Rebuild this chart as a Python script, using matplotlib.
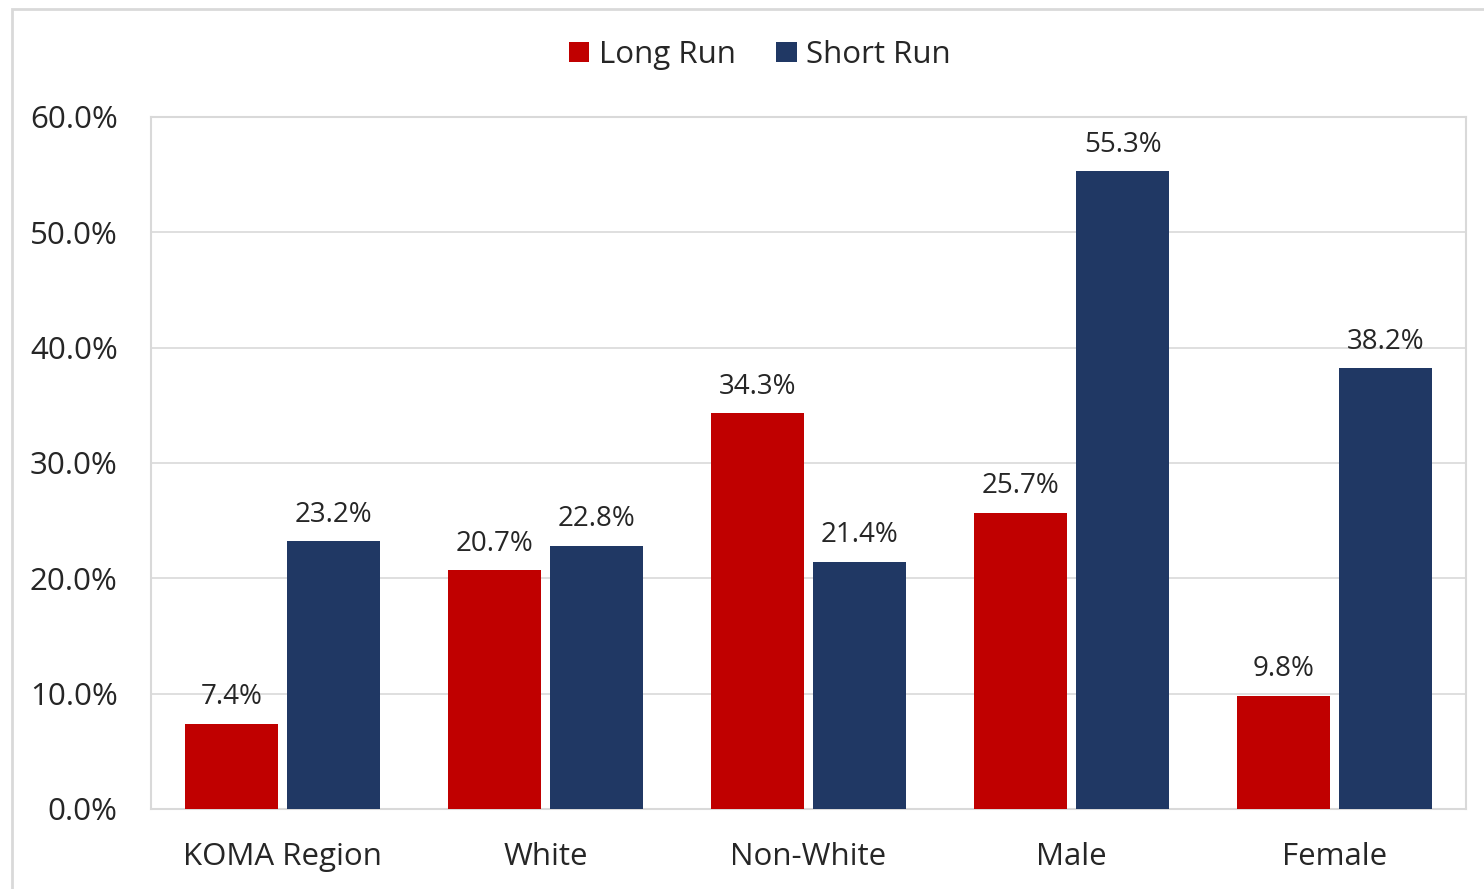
import numpy as np
import matplotlib
matplotlib.use("Agg")
import matplotlib.pyplot as plt
from matplotlib.patches import Rectangle

categories = ["KOMA Region", "White", "Non-White", "Male", "Female"]
long_run = [7.4, 20.7, 34.3, 25.7, 9.8]
short_run = [23.2, 22.8, 21.4, 55.3, 38.2]
series_names = ["Long Run", "Short Run"]
colors = ["#C00000", "#203864"]
yticks = [0, 10, 20, 30, 40, 50, 60]

plt.rcParams['font.family'] = ['Open Sans', 'DejaVu Sans']

fig = plt.figure(figsize=(14.84, 8.89), dpi=100)
# outer chart border (runs off the right and bottom edges)
fig.patches.append(Rectangle((12 / 1484, -0.5), 1.5, 1.5 - 9 / 889, transform=fig.transFigure,
                             fill=False, edgecolor="#D9D9D9", linewidth=2, zorder=0))

ax = fig.add_axes([151 / 1484, 1 - 809 / 889, (1466 - 151) / 1484, (809 - 117) / 889])

x = np.arange(len(categories))
w = 0.35
off = 0.194
b1 = ax.bar(x - off, long_run, w, color=colors[0], label=series_names[0], zorder=3)
b2 = ax.bar(x + off, short_run, w, color=colors[1], label=series_names[1], zorder=3)

for bars, vals in ((b1, long_run), (b2, short_run)):
    for r, v in zip(bars, vals):
        ax.text(r.get_x() + r.get_width() / 2, v + 1.1, f"{v:.1f}%", ha="center", va="bottom",
                fontsize=20, color="#262626")

ax.set_xlim(-0.5, len(categories) - 0.5)
ax.set_ylim(0, 60)
ax.set_yticks(yticks)
ax.set_yticklabels([f"{t:.1f}%" for t in yticks], fontsize=22.5, color="#262626")
ax.set_xticks(x)
ax.set_xticklabels(categories, fontsize=22.5, color="#262626")
ax.tick_params(axis="both", length=0)
ax.tick_params(axis="y", pad=24)
ax.tick_params(axis="x", pad=24)
ax.grid(axis="y", color="#D9D9D9", linewidth=1.2, zorder=0)
for s in ax.spines.values():
    s.set_color("#D9D9D9")
    s.set_linewidth(1.5)

fig.legend(handles=[b1, b2], labels=series_names, loc="center", bbox_to_anchor=(0.512, 1 - 55 / 889),
           ncol=2, frameon=False, fontsize=22.5, handlelength=0.65, handleheight=0.65,
           handletextpad=0.3, columnspacing=1.3, labelcolor="#262626")

fig.savefig("out.png", dpi=100)
